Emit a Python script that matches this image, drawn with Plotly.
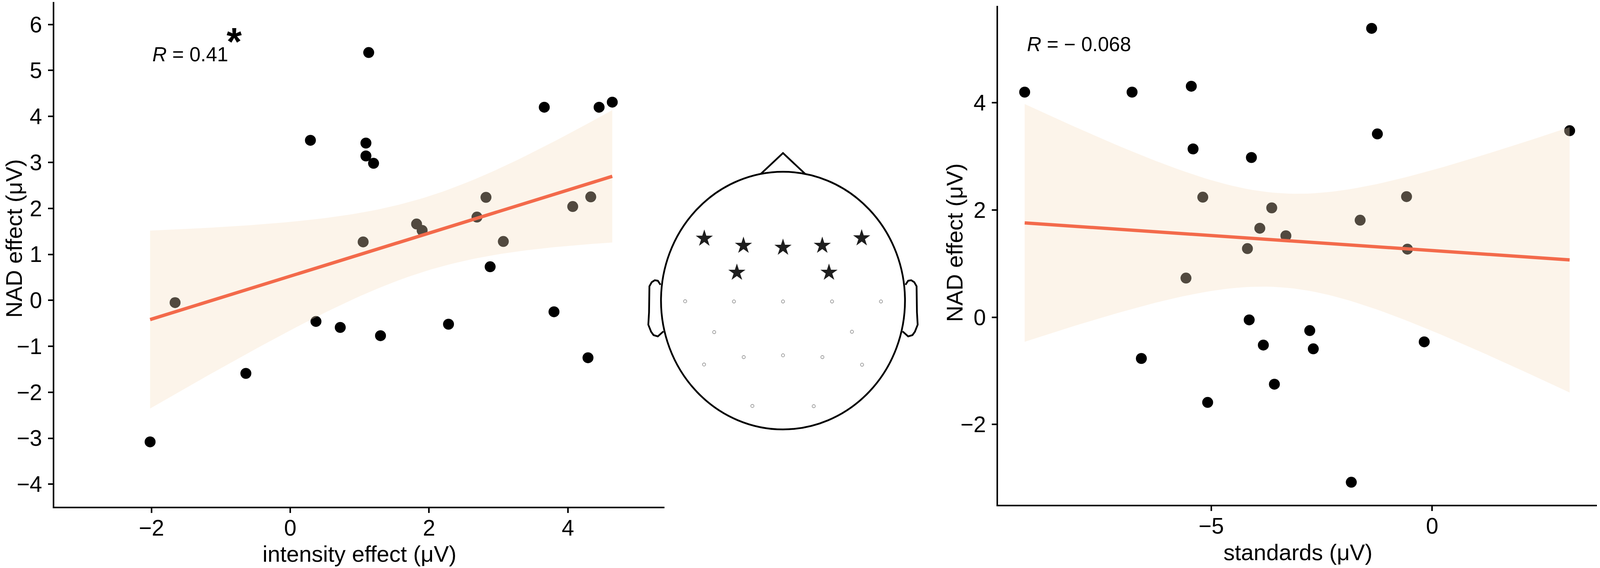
import numpy as np
import plotly.graph_objects as go

# one value per subject, same order in all lists
nad_effect = [5.39, 4.20, 4.20, 4.31, 3.48, 3.42, 3.14, 2.98, 0.73, -0.46, -0.59, -0.77, -0.52,
              -0.25, -1.25, -1.59, -3.08, -0.05, 1.27, 1.66, 1.52, 1.81, 2.24, 1.28, 2.04, 2.25]
intensity_effect = [1.13, 3.66, 4.45, 4.64, 0.29, 1.09, 1.09, 1.20, 2.88, 0.37, 0.72, 1.30, 2.28,
                    3.80, 4.29, -0.64, -2.02, -1.66, 1.05, 1.82, 1.90, 2.69, 2.82, 3.07, 4.07, 4.33]
standards = [-1.37, -9.22, -6.79, -5.45, 3.11, -1.24, -5.41, -4.09, -5.57, -0.18, -2.69, -6.58, -3.82,
             -2.77, -3.57, -5.08, -1.83, -4.14, -0.56, -3.90, -3.31, -1.63, -5.19, -4.18, -3.63, -0.58]

r_labels = ["<i>R</i> = 0.41", "<i>R</i> = \u2212 0.068"]
x_titles = ["intensity effect (\u03bcV)", "standards (\u03bcV)"]
y_title = "NAD effect (\u03bcV)"

# head schematic, head radius = 1
nose_x = [-0.18, 0.0, 0.18]
nose_y = [0.985, 1.145, 0.985]
ear_x = [-1.004, -1.026, -1.051, -1.076, -1.095, -1.095, -1.098, -1.104, -1.081, -1.061, -1.026, -0.980]
ear_y = [0.123, 0.154, 0.158, 0.143, 0.111, 0.061, -0.091, -0.187, -0.242, -0.268, -0.278, -0.239]
sig_x = [-0.645, -0.324, 0.0, 0.322, 0.645, -0.378, 0.377]
sig_y = [0.482, 0.427, 0.412, 0.427, 0.485, 0.218, 0.218]
elec_x = [-0.802, -0.402, 0.0, 0.402, 0.803, -0.564, 0.565, -0.322, 0.0, 0.323, -0.647, 0.648, -0.251, 0.252]
elec_y = [-0.005, -0.007, -0.007, -0.007, -0.007, -0.245, -0.242, -0.439, -0.425, -0.439, -0.496, -0.498, -0.818, -0.820]

W, H = 4328, 1455
FONT = "Liberation Sans, Arial, sans-serif"
LINE = "#F36A4B"
BAND = "rgba(245,222,190,0.33)"


def lmFit(x, y, n_out=80):
    x, y = np.asarray(x), np.asarray(y)
    n = len(x)
    slope, icpt = np.polyfit(x, y, 1)
    xs = np.linspace(x.min(), x.max(), n_out)
    fit = icpt + slope * xs
    resid = y - (icpt + slope * x)
    s = np.sqrt(np.sum(resid ** 2) / (n - 2))
    sxx = np.sum((x - x.mean()) ** 2)
    half = 2.0639 * s * np.sqrt(1 / n + (xs - x.mean()) ** 2 / sxx)  # t(0.975, 24)
    return xs, fit, fit - half, fit + half


def addPanel(fig, x, y, xa, ya):
    fig.add_trace(go.Scatter(x=x, y=y, mode="markers", xaxis=xa, yaxis=ya,
                             marker=dict(size=28, color="black")))
    xs, fit, lo, hi = lmFit(x, y)
    fig.add_trace(go.Scatter(x=xs, y=lo, mode="lines", line=dict(width=0), xaxis=xa, yaxis=ya))
    fig.add_trace(go.Scatter(x=xs, y=hi, mode="lines", line=dict(width=0), fill="tonexty",
                             fillcolor=BAND, xaxis=xa, yaxis=ya))
    fig.add_trace(go.Scatter(x=xs, y=fit, mode="lines", line=dict(width=8.5, color=LINE),
                             xaxis=xa, yaxis=ya))


fig = go.Figure()
addPanel(fig, intensity_effect, nad_effect, "x", "y")
addPanel(fig, standards, nad_effect, "x2", "y2")

# head
head_line = dict(color="black", width=4.5)
fig.add_trace(go.Scatter(x=nose_x, y=nose_y, mode="lines", line=head_line, xaxis="x3", yaxis="y3"))
fig.add_trace(go.Scatter(x=ear_x, y=ear_y, mode="lines", line=head_line, xaxis="x3", yaxis="y3"))
fig.add_trace(go.Scatter(x=[-v for v in ear_x], y=ear_y, mode="lines", line=head_line, xaxis="x3", yaxis="y3"))
fig.add_trace(go.Scatter(x=elec_x, y=elec_y, mode="markers", xaxis="x3", yaxis="y3",
                         marker=dict(symbol="circle-open", size=8, color="#888888", line=dict(width=1.5))))
fig.add_trace(go.Scatter(x=sig_x, y=sig_y, mode="markers", xaxis="x3", yaxis="y3",
                         marker=dict(symbol="star", size=33, color="#1e1e1e")))
fig.add_shape(type="circle", xref="x3", yref="y3", x0=-1, x1=1, y0=-1, y1=1,
              line=head_line, layer="below")

axis_style = dict(
    showline=True, linecolor="black", linewidth=4, ticks="outside", ticklen=12, tickwidth=4,
    tickcolor="black", showgrid=False, zeroline=False,
    tickfont=dict(family=FONT, size=57, color="black")
)
title_font = dict(family=FONT, size=58, color="black")

fig.update_layout(
    autosize=True, margin=dict(l=0, r=0, t=0, b=0),
    paper_bgcolor="white", plot_bgcolor="rgba(0,0,0,0)", showlegend=False,
    xaxis=dict(axis_style, domain=[147 / W, 1797 / W], range=[-3.40, 5.39], tickvals=[-2, 0, 2, 4],
               anchor="y", ticklabelstandoff=-10),
    yaxis=dict(axis_style, domain=[1 - 1298 / H, 1 - 5 / H], range=[-4.49, 6.49],
               tickvals=list(range(-4, 7)), anchor="x", ticklabelstandoff=4),
    xaxis2=dict(axis_style, domain=[2700 / W, 4320 / W], range=[-9.82, 3.73], tickvals=[-5, 0],
                anchor="y2", ticklabelstandoff=-10),
    yaxis2=dict(axis_style, domain=[1 - 1293 / H, 1 - 15 / H], range=[-3.50, 5.81],
                tickvals=[-2, 0, 2, 4], anchor="x2", ticklabelstandoff=4),
    xaxis3=dict(domain=[1718 / W, 2518 / W], range=[-400 / 330, 400 / 330], visible=False, anchor="y3"),
    yaxis3=dict(domain=[1 - 1170 / H, 1 - 370 / H], range=[-400 / 330, 400 / 330], visible=False, anchor="x3"),
)

ann = dict(xref="paper", yref="paper", showarrow=False, font=dict(family=FONT, size=51, color="black"))
fig.add_annotation(ann, x=410 / W, y=1 - 139 / H, xanchor="left", yanchor="middle", text=r_labels[0])
fig.add_annotation(ann, x=633 / W, y=1 - 106 / H, xanchor="center", yanchor="middle", text="<b>*</b>",
                   font=dict(family=FONT, size=100, color="black"))
fig.add_annotation(ann, x=2776 / W, y=1 - 114 / H, xanchor="left", yanchor="middle", text=r_labels[1])
fig.add_annotation(ann, x=37 / W, y=1 - 611 / H, xanchor="center", yanchor="middle", textangle=-90,
                   text=y_title, font=title_font)
fig.add_annotation(ann, x=2581 / W, y=1 - 622 / H, xanchor="center", yanchor="middle", textangle=-90,
                   text=y_title, font=title_font)
fig.add_annotation(ann, x=973 / W, y=1 - 1418 / H, xanchor="center", yanchor="middle",
                   text=x_titles[0], font=title_font)
fig.add_annotation(ann, x=3511 / W, y=1 - 1414 / H, xanchor="center", yanchor="middle",
                   text=x_titles[1], font=title_font)

# fill the browser window exactly, whatever its size
fig.write_html("out.html", default_width="100vw", default_height="100vh",
               config={"displayModeBar": False},
               post_script="document.body.style.margin='0';document.body.style.overflow='hidden';")
